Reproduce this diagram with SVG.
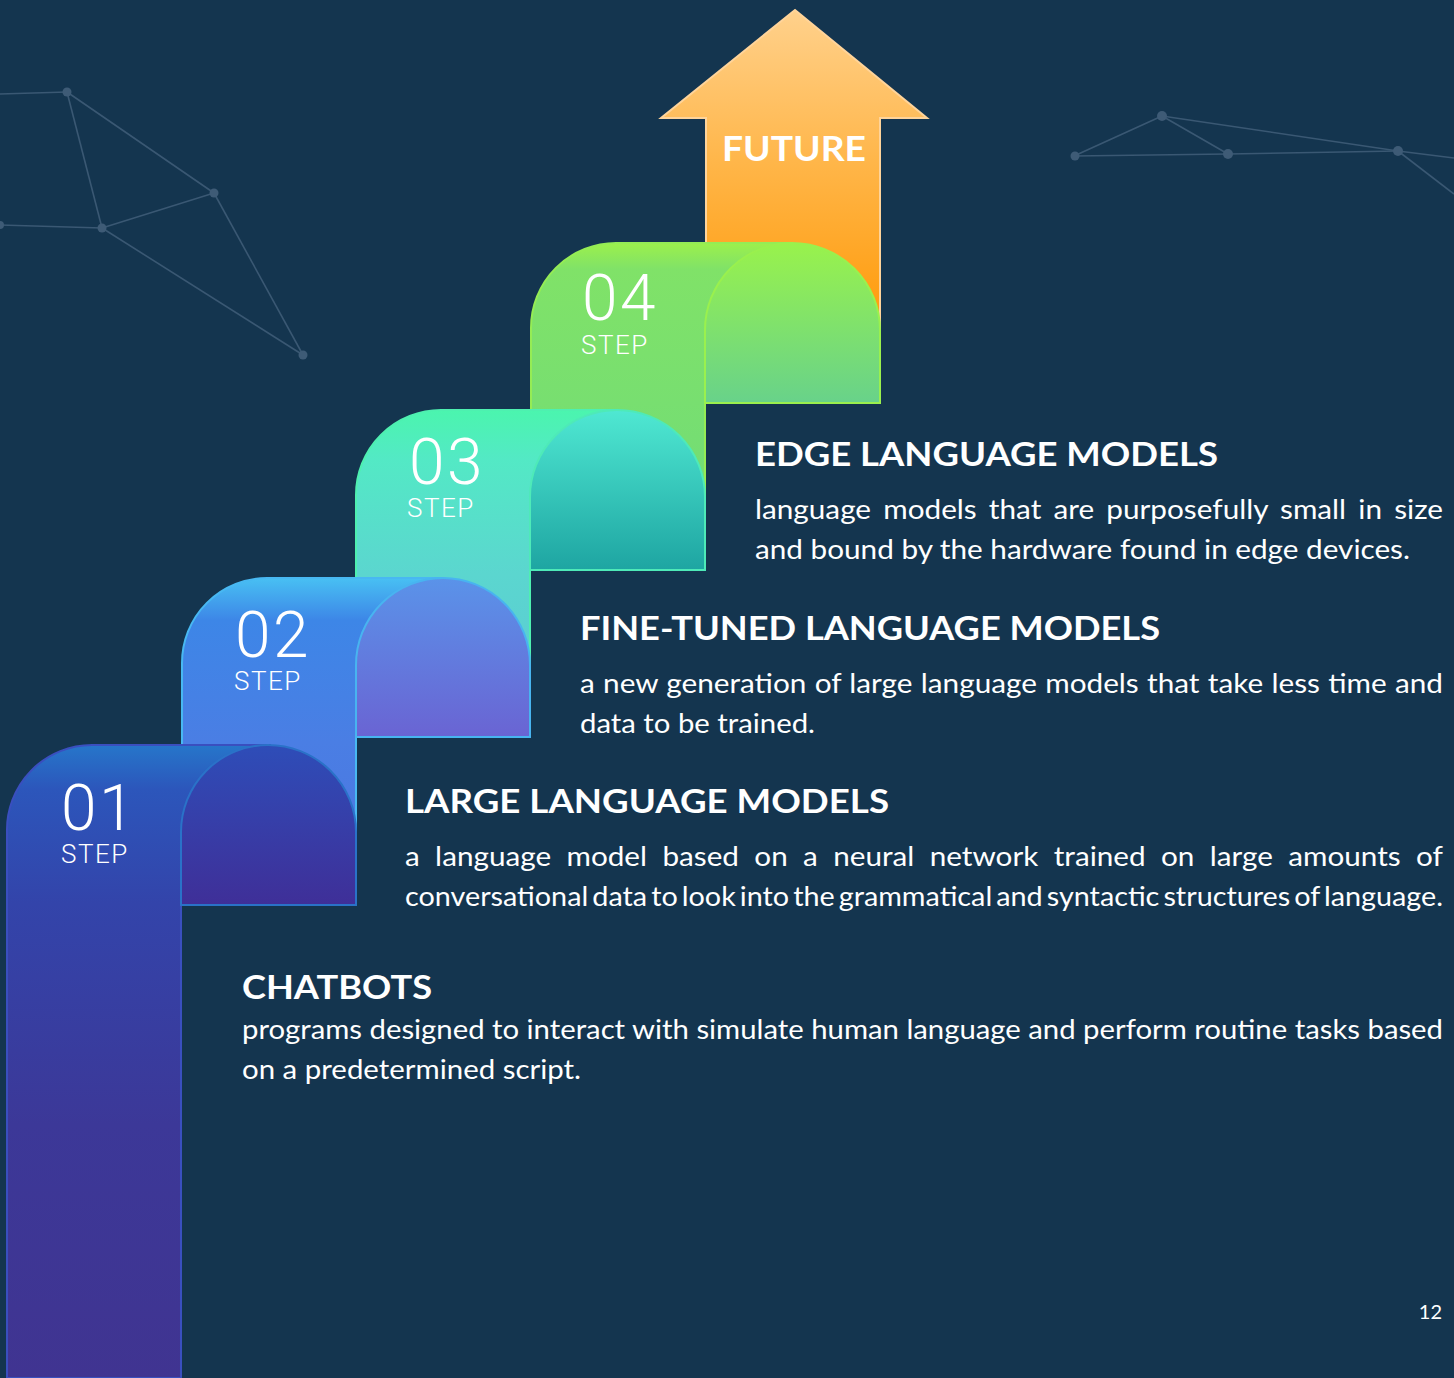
<svg xmlns="http://www.w3.org/2000/svg" width="1454" height="1378" viewBox="0 0 1454 1378">
<defs>
<style>
.bg{fill:#14354f}
.net line{stroke:#3a5873;stroke-width:1.6}
.net circle{fill:#3e5b76}
.num{font-family:Roboto,"Liberation Sans",sans-serif;font-weight:300;fill:#fff;font-size:64px;letter-spacing:2.5px}
.stp{font-family:Roboto,"Liberation Sans",sans-serif;font-weight:300;fill:#fff;font-size:26px;letter-spacing:1.5px}
.hd{font-family:Lato,"Liberation Sans",sans-serif;font-weight:700;fill:#fff;font-size:32px}
.bd{font-family:Lato,"Liberation Sans",sans-serif;font-weight:400;fill:#fff;font-size:26px}
</style>
<linearGradient id="gArrow" x1="0" y1="10" x2="0" y2="403" gradientUnits="userSpaceOnUse"><stop offset="0" stop-color="#ffd18c"/><stop offset="0.4" stop-color="#ffb547"/><stop offset="0.75" stop-color="#ff9e12"/><stop offset="1" stop-color="#ff9800"/></linearGradient>
<linearGradient id="c4" x1="0" y1="243" x2="0" y2="570" gradientUnits="userSpaceOnUse"><stop offset="0" stop-color="#9cf04c"/><stop offset="0.08" stop-color="#80e268"/><stop offset="1" stop-color="#6edb7a"/></linearGradient>
<linearGradient id="a4" x1="0" y1="243" x2="0" y2="403" gradientUnits="userSpaceOnUse"><stop offset="0" stop-color="#99f24c"/><stop offset="1" stop-color="#68d28a"/></linearGradient>
<linearGradient id="c3" x1="0" y1="410" x2="0" y2="737" gradientUnits="userSpaceOnUse"><stop offset="0" stop-color="#4bf5ae"/><stop offset="0.15" stop-color="#53e9c5"/><stop offset="0.5" stop-color="#5bd6cf"/><stop offset="1" stop-color="#5ac6d6"/></linearGradient>
<linearGradient id="a3" x1="0" y1="410" x2="0" y2="570" gradientUnits="userSpaceOnUse"><stop offset="0" stop-color="#4fe8d2"/><stop offset="1" stop-color="#1ea5a2"/></linearGradient>
<linearGradient id="c2" x1="0" y1="578" x2="0" y2="905" gradientUnits="userSpaceOnUse"><stop offset="0" stop-color="#48c0f3"/><stop offset="0.13" stop-color="#3d86e7"/><stop offset="0.5" stop-color="#4a7ee4"/><stop offset="1" stop-color="#4d74df"/></linearGradient>
<linearGradient id="a2" x1="0" y1="578" x2="0" y2="737" gradientUnits="userSpaceOnUse"><stop offset="0" stop-color="#5a93e9"/><stop offset="1" stop-color="#6a64d3"/></linearGradient>
<linearGradient id="c1" x1="0" y1="745" x2="0" y2="1378" gradientUnits="userSpaceOnUse"><stop offset="0" stop-color="#2676ca"/><stop offset="0.07" stop-color="#2c56bb"/><stop offset="0.25" stop-color="#3344aa"/><stop offset="0.6" stop-color="#3c3898"/><stop offset="1" stop-color="#403491"/></linearGradient>
<linearGradient id="a1" x1="0" y1="745" x2="0" y2="905" gradientUnits="userSpaceOnUse"><stop offset="0" stop-color="#2e4db8"/><stop offset="1" stop-color="#3f2f98"/></linearGradient>
</defs>
<rect class="bg" x="0" y="0" width="1454" height="1378"/>
<g class="net" id="network-left">
<line x1="0" y1="94" x2="67" y2="92"/><line x1="67" y1="92" x2="102" y2="228"/><line x1="67" y1="92" x2="214" y2="193"/><line x1="214" y1="193" x2="102" y2="228"/><line x1="0" y1="225" x2="102" y2="228"/><line x1="102" y1="228" x2="303" y2="355"/><line x1="214" y1="193" x2="303" y2="355"/>
<circle cx="67" cy="92" r="4.5"/><circle cx="214" cy="193" r="4.5"/><circle cx="102" cy="228" r="4.5"/><circle cx="303" cy="355" r="4.5"/><circle cx="0" cy="225" r="4"/>
</g>
<g class="net" id="network-right">
<line x1="1074" y1="156" x2="1162" y2="116"/><line x1="1162" y1="116" x2="1228" y2="154"/><line x1="1074" y1="156" x2="1228" y2="154"/><line x1="1228" y1="154" x2="1398" y2="151"/><line x1="1162" y1="116" x2="1398" y2="151"/><line x1="1398" y1="151" x2="1454" y2="158"/><line x1="1398" y1="151" x2="1454" y2="194"/>
<circle cx="1162" cy="116" r="5"/><circle cx="1228" cy="154" r="5"/><circle cx="1398" cy="151" r="5"/><circle cx="1075" cy="156" r="4.5"/>
</g>
<g id="future-arrow">
<path d="M795,10 L927,118 H880 V403 H706 V118 H661 Z" fill="url(#gArrow)" stroke="#ffd49a" stroke-width="2" stroke-linejoin="miter"/>
<text x="722" y="161" textLength="144" lengthAdjust="spacingAndGlyphs" font-family="Lato,'Liberation Sans',sans-serif" font-weight="700" font-size="35" fill="#fff">FUTURE</text>
</g>
<g id="step4">
<path d="M531,570 V328 A85,85 0 0 1 616,243 H792 V403 H705 V570 Z" fill="url(#c4)" stroke="#95ec55" stroke-width="2"/>
<path d="M705,403 V330 A87,87 0 0 1 792,243 A88,87 0 0 1 880,330 V403 Z" fill="url(#a4)" stroke="#9af04e" stroke-width="2"/>
<text class="num" x="582" y="320">04</text>
<text class="stp" x="581" y="354">STEP</text>
</g>
<g id="step3">
<path d="M356,737 V495 A85,85 0 0 1 441,410 H618 V570 H530 V737 Z" fill="url(#c3)" stroke="#4ef0b0" stroke-width="2"/>
<path d="M530,570 V497 A87,87 0 0 1 617,410 A88,87 0 0 1 705,497 V570 Z" fill="url(#a3)" stroke="#4eeab8" stroke-width="2"/>
<text class="num" x="409" y="484">03</text>
<text class="stp" x="407" y="517">STEP</text>
</g>
<g id="step2">
<path d="M182,905 V663 A85,85 0 0 1 267,578 H443 V737 H356 V905 Z" fill="url(#c2)" stroke="#48b8f2" stroke-width="2"/>
<path d="M356,737 V665 A87,87 0 0 1 443,578 A87,87 0 0 1 530,665 V737 Z" fill="url(#a2)" stroke="#48b4f0" stroke-width="2"/>
<text class="num" x="235" y="657">02</text>
<text class="stp" x="234" y="690">STEP</text>
</g>
<g id="step1">
<path d="M7,1378 V832 A85,85 0 0 1 92,745 H270 V905 H181 V1378 Z" fill="url(#c1)" stroke="#3a4fbf" stroke-width="2"/>
<path d="M181,905 V832 A87,87 0 0 1 268,745 A88,87 0 0 1 356,832 V905 Z" fill="url(#a1)" stroke="#2a72c8" stroke-width="2"/>
<text class="num" x="61" y="830">01</text>
<text class="stp" x="61" y="863">STEP</text>
</g>
<g id="text-edge">
<text class="hd" x="755" y="466" textLength="463" lengthAdjust="spacingAndGlyphs">EDGE LANGUAGE MODELS</text>
<text class="bd" x="755" y="519" textLength="688" lengthAdjust="spacingAndGlyphs" word-spacing="4">language models that are purposefully small in size</text>
<text class="bd" x="755" y="559" textLength="655" lengthAdjust="spacingAndGlyphs">and bound by the hardware found in edge devices.</text>
</g>
<g id="text-finetuned">
<text class="hd" x="580" y="640" textLength="580" lengthAdjust="spacingAndGlyphs">FINE-TUNED LANGUAGE MODELS</text>
<text class="bd" x="580" y="693" textLength="863" lengthAdjust="spacingAndGlyphs" word-spacing="0.6">a new generation of large language models that take less time and</text>
<text class="bd" x="580" y="733" textLength="235" lengthAdjust="spacingAndGlyphs">data to be trained.</text>
</g>
<g id="text-large">
<text class="hd" x="405" y="813" textLength="484" lengthAdjust="spacingAndGlyphs">LARGE LANGUAGE MODELS</text>
<text class="bd" x="405" y="866" textLength="1038" lengthAdjust="spacingAndGlyphs" word-spacing="6.8">a language model based on a neural network trained on large amounts of</text>
<text class="bd" x="405" y="906" textLength="1038" lengthAdjust="spacingAndGlyphs" word-spacing="-3">conversational data to look into the grammatical and syntactic structures of language.</text>
</g>
<g id="text-chatbots">
<text class="hd" x="242" y="999" textLength="190" lengthAdjust="spacingAndGlyphs">CHATBOTS</text>
<text class="bd" x="242" y="1039" textLength="1201" lengthAdjust="spacingAndGlyphs">programs designed to interact with simulate human language and perform routine tasks based</text>
<text class="bd" x="242" y="1079" textLength="339" lengthAdjust="spacingAndGlyphs">on a predetermined script.</text>
</g>
<text x="1442" y="1319" text-anchor="end" font-family="Lato,'Liberation Sans',sans-serif" font-size="20" fill="#fff">12</text>
</svg>
